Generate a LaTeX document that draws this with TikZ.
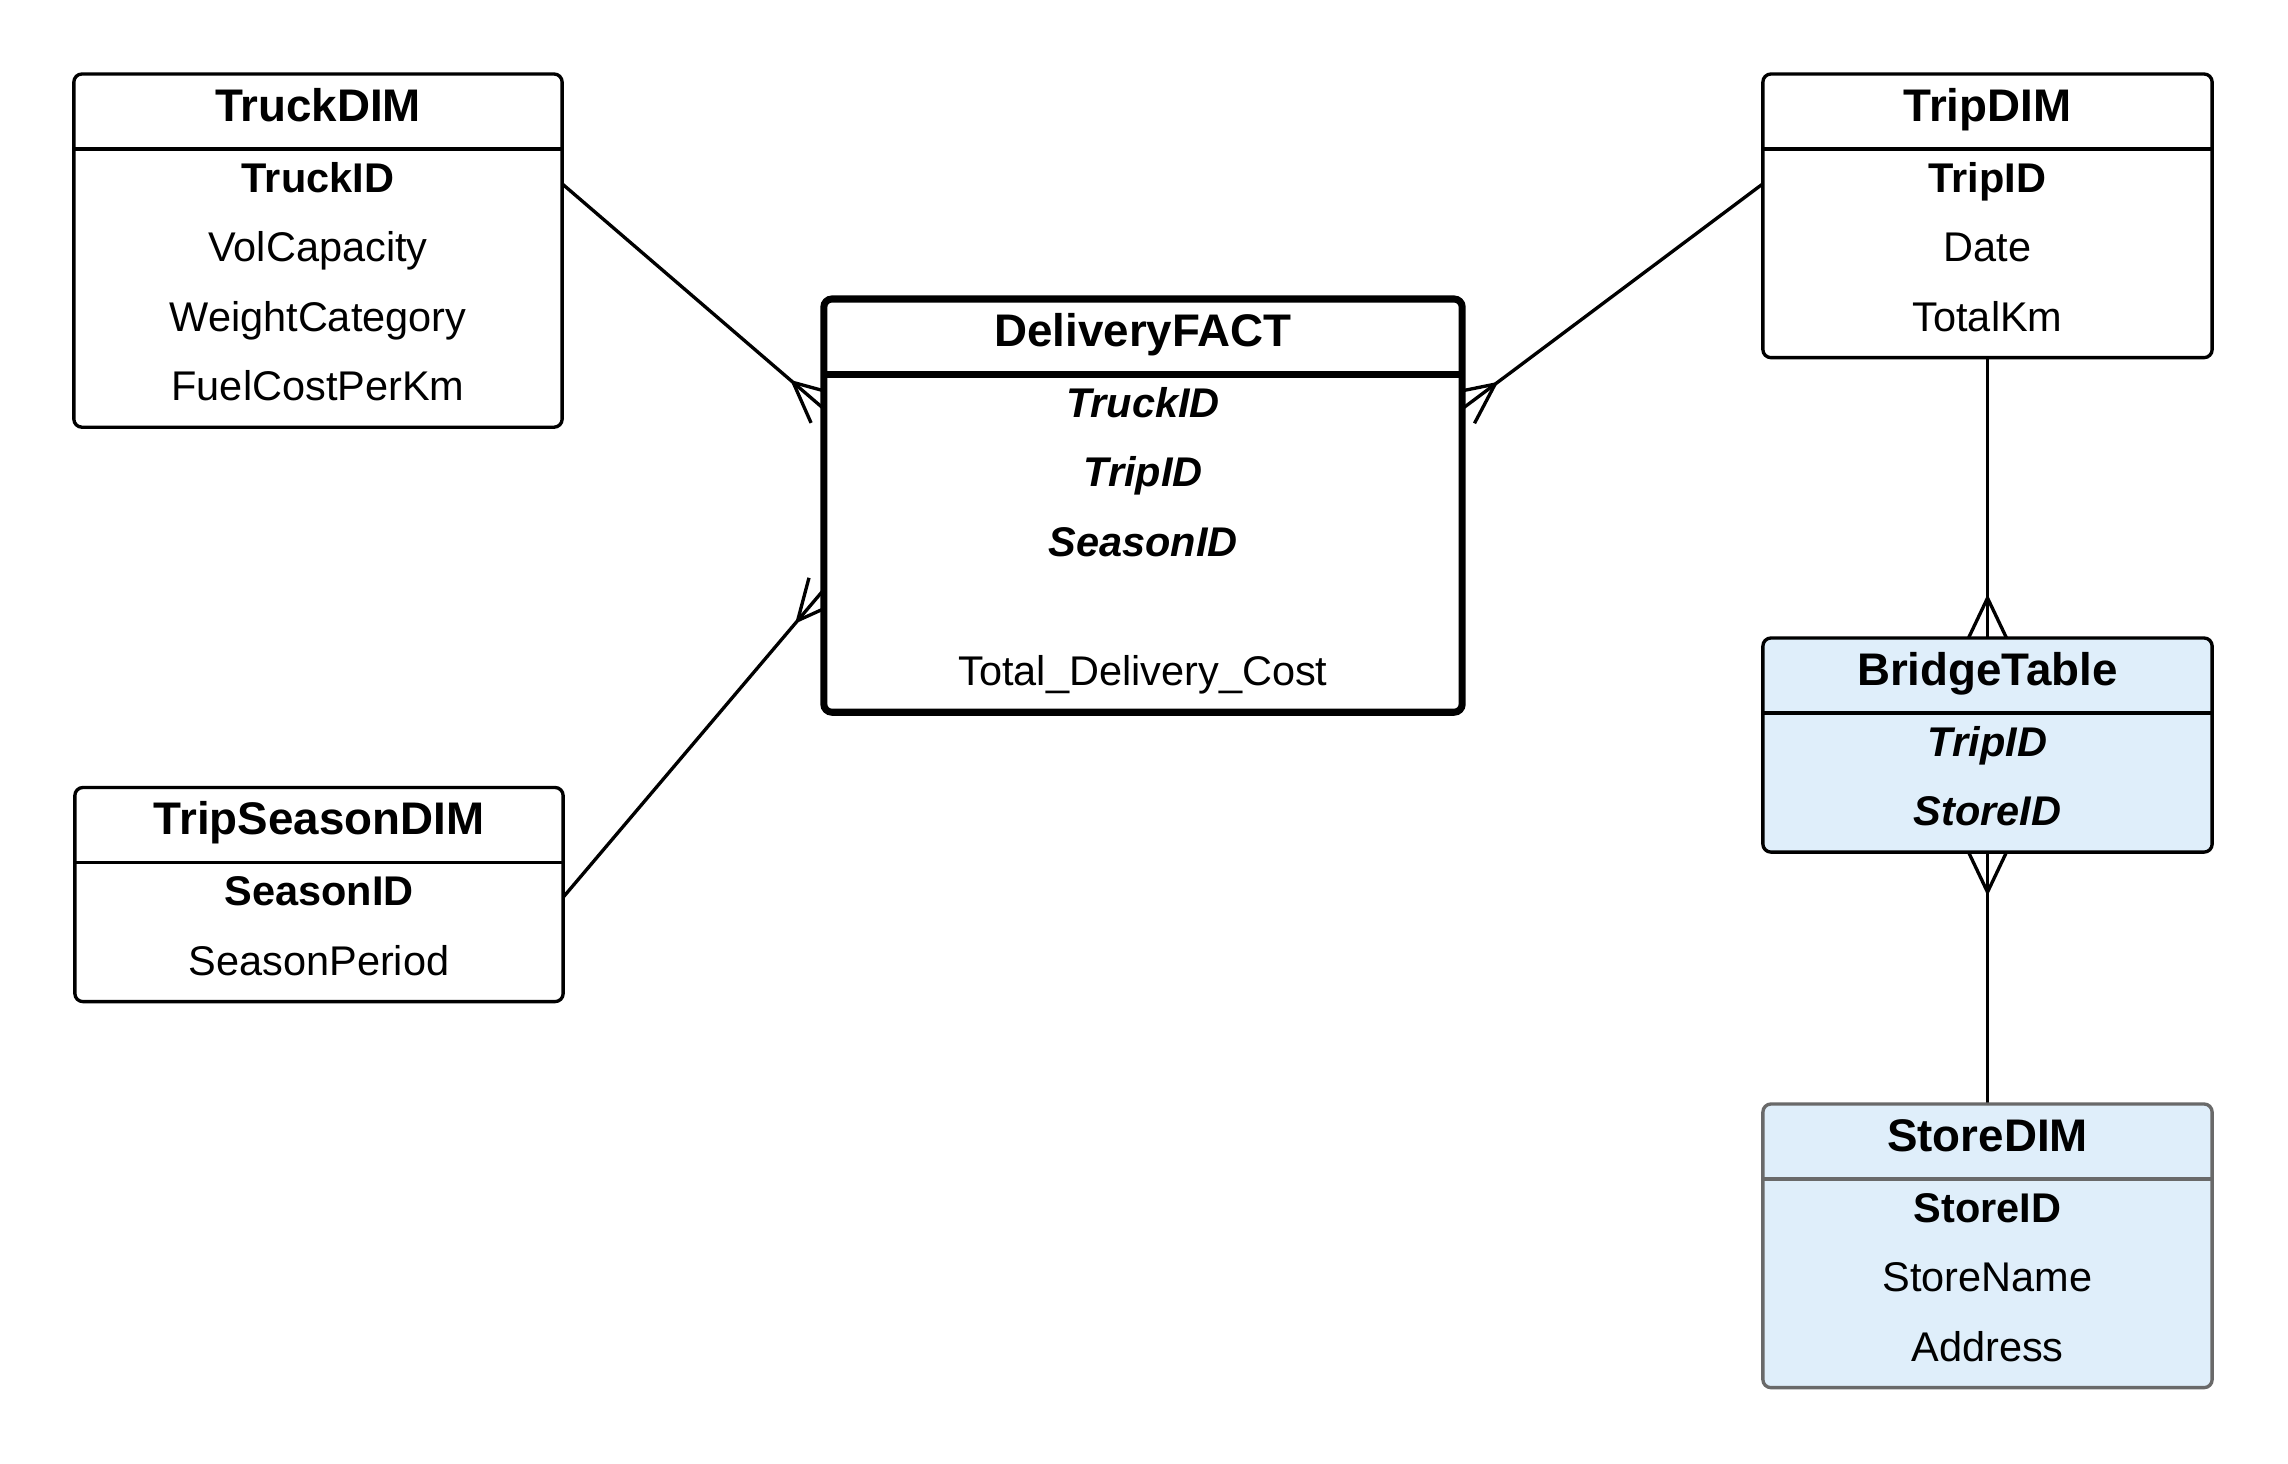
\documentclass[tikz,border=0pt]{standalone}
\usepackage{fontspec}
\setmainfont{Liberation Sans}
\usetikzlibrary{positioning,backgrounds,decorations.markings}
\pgfdeclarelayer{edges}
\pgfsetlayers{edges,background,main}
\newcommand{\titlefont}{\fontsize{13}{15}\selectfont\bfseries}
\newcommand{\fieldfont}{\fontsize{11.8}{14}\selectfont}
\definecolor{bridgeblue}{RGB}{223,238,250}
\definecolor{storegray}{RGB}{105,105,105}
\tikzset{
  hdr/.style={minimum width=#1, minimum height=0.75cm, inner sep=0pt, outer sep=0pt, text height=9.4pt, text depth=3.8pt, font=\titlefont},
  fld/.style={minimum width=#1, minimum height=0.695cm, inner sep=0pt, outer sep=0pt, text height=8.4pt, text depth=3.6pt, font=\fieldfont},
  pk/.style={fld=#1, font=\fieldfont\bfseries},
  fk/.style={fld=#1, font=\fieldfont\bfseries\itshape},
  tbl/.style={draw, line width=0.95pt, rounded corners=2.3pt, fill=white},
  rel/.style={draw, line width=0.95pt},
  crow/.style={postaction={decorate, decoration={markings, mark=at position 1 with {\draw[line width=0.95pt] (-40,0) -- (0,19) (-40,0) -- (0,-19);}}}}
}
\begin{document}
\begin{tikzpicture}[x=0.01cm, y=-0.01cm]
\useasboundingbox (0,0) rectangle (2288,1463);
% truck dimension
\node[hdr=4.88cm] (truckdim) at (318,111.5) {TruckDIM};
\node[pk=4.88cm, below=0pt of truckdim] (truckdim-id) {TruckID};
\node[fld=4.88cm, below=0pt of truckdim-id] (truckdim-vol) {VolCapacity};
\node[fld=4.88cm, below=0pt of truckdim-vol] (truckdim-weight) {WeightCategory};
\node[fld=4.88cm, below=0pt of truckdim-weight] (truckdim-fuel) {FuelCostPerKm};
% trip dimension
\node[hdr=4.49cm] (tripdim) at (1987.5,111.5) {TripDIM};
\node[pk=4.49cm, below=0pt of tripdim] (tripdim-id) {TripID};
\node[fld=4.49cm, below=0pt of tripdim-id] (tripdim-date) {Date};
\node[fld=4.49cm, below=0pt of tripdim-date] (tripdim-km) {TotalKm};
% season dimension
\node[hdr=4.88cm] (seasondim) at (319,825) {TripSeasonDIM};
\node[pk=4.88cm, below=0pt of seasondim] (seasondim-id) {SeasonID};
\node[fld=4.88cm, below=0pt of seasondim-id] (seasondim-period) {SeasonPeriod};
% fact table
\node[hdr=6.38cm] (fact) at (1143,336.5) {DeliveryFACT};
\node[fk=6.38cm, below=0pt of fact] (fact-truck) {TruckID};
\node[fk=6.38cm, below=0pt of fact-truck] (fact-trip) {TripID};
\node[fk=6.38cm, below=0pt of fact-trip] (fact-season) {SeasonID};
\node[fld=6.38cm, minimum height=0.6cm, below=0pt of fact-season] (fact-gap) {};
\node[fld=6.38cm, below=0pt of fact-gap] (fact-total) {Total\_Delivery\_Cost};
% bridge and store
\node[hdr=4.49cm] (bridge) at (1987.5,675.5) {BridgeTable};
\node[fk=4.49cm, below=0pt of bridge] (bridge-trip) {TripID};
\node[fk=4.49cm, below=0pt of bridge-trip] (bridge-store) {StoreID};
\node[hdr=4.49cm] (storedim) at (1987.5,1141.5) {StoreDIM};
\node[pk=4.49cm, below=0pt of storedim] (storedim-id) {StoreID};
\node[fld=4.49cm, below=0pt of storedim-id] (storedim-name) {StoreName};
\node[fld=4.49cm, below=0pt of storedim-name] (storedim-addr) {Address};
% frames
\begin{pgfonlayer}{background}
\draw[tbl] (truckdim.north west) rectangle (truckdim-fuel.south east);
\draw[line width=0.95pt] (truckdim.south west) -- (truckdim.south east);
\draw[tbl] (tripdim.north west) rectangle (tripdim-km.south east);
\draw[line width=0.95pt] (tripdim.south west) -- (tripdim.south east);
\draw[tbl] (seasondim.north west) rectangle (seasondim-period.south east);
\draw[line width=0.95pt] (seasondim.south west) -- (seasondim.south east);
\draw[tbl, line width=2pt] (fact.north west) rectangle (fact-total.south east);
\draw[line width=2pt] (fact.south west) -- (fact.south east);
\draw[tbl, fill=bridgeblue] (bridge.north west) rectangle (bridge-store.south east);
\draw[line width=0.95pt] (bridge.south west) -- (bridge.south east);
\draw[tbl, fill=bridgeblue, draw=storegray] (storedim.north west) rectangle (storedim-addr.south east);
\draw[line width=0.95pt, storegray] (storedim.south west) -- (storedim.south east);
\end{pgfonlayer}
% relationships
\begin{pgfonlayer}{edges}
\draw[rel, crow] (truckdim-id.east) -- (fact-truck.west);
\draw[rel, crow] (tripdim-id.west) -- (fact-truck.east);
\draw[rel, crow] (seasondim-id.east) -- ([yshift=-2pt]fact-season.south west);
\draw[rel, crow] (tripdim-km.south) -- (bridge.north);
\draw[rel, crow] (storedim.north) -- (bridge-store.south);
\end{pgfonlayer}
\end{tikzpicture}
\end{document}
